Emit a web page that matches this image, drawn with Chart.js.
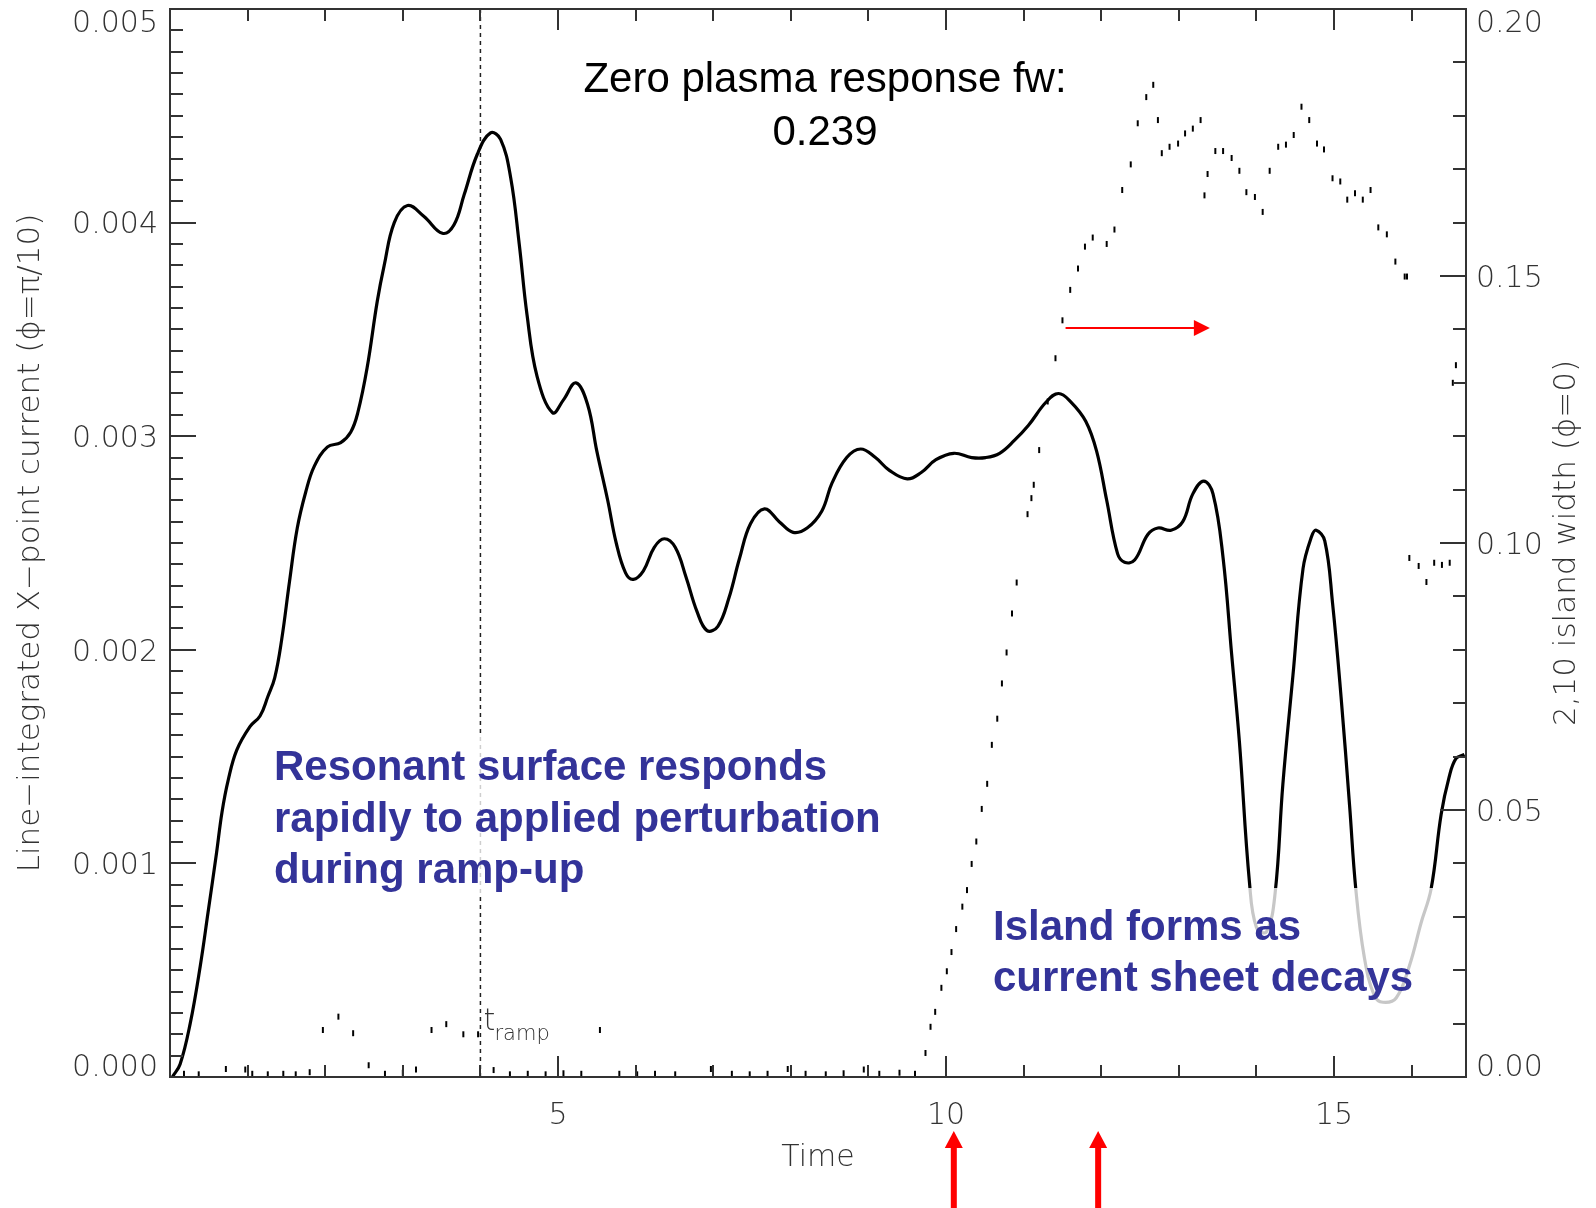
<!DOCTYPE html>
<html>
<head>
<meta charset="utf-8">
<script src="https://cdn.jsdelivr.net/npm/chart.js@4.4.1/dist/chart.umd.min.js"></script>
<style>
  body { margin: 0; background: #fff; }
  #wrap { width: 1596px; height: 1208px; }
</style>
</head>
<body>
<div id="wrap"><canvas id="myChart"></canvas></div>
<script>
// line-integrated X-point current (left axis)
const timeMain = [0.03, 0.13, 0.26, 0.39, 0.49, 0.60, 0.67, 0.75, 0.86, 1.03, 1.16, 1.26, 1.35, 1.44, 1.54, 1.64, 1.75, 1.86, 2.03, 2.20,
  2.33, 2.42, 2.54, 2.67, 2.76, 2.89, 3.06, 3.27, 3.51, 3.66, 3.79, 3.96, 4.13, 4.26, 4.39, 4.50, 4.60, 4.73, 4.93, 5.07,
  5.23, 5.38, 5.50, 5.64, 5.75, 5.87, 5.97, 6.10, 6.24, 6.37, 6.51, 6.65, 6.79, 6.92, 7.06, 7.20, 7.34, 7.48, 7.66, 7.85,
  8.03, 8.21, 8.40, 8.53, 8.72, 8.90, 9.09, 9.27, 9.50, 9.68, 9.87, 10.10, 10.33, 10.51, 10.69, 10.88, 11.06, 11.29, 11.45, 11.61,
  11.80, 11.94, 12.07, 12.21, 12.30, 12.43, 12.60, 12.73, 12.90, 13.05, 13.18, 13.32, 13.44, 13.57, 13.68, 13.78, 13.91, 14.00, 14.13, 14.24,
  14.34, 14.47, 14.60, 14.71, 14.77, 14.88, 14.98, 15.09, 15.20, 15.28, 15.39, 15.52, 15.63, 15.80, 15.97, 16.12, 16.25, 16.38, 16.48, 16.57, 16.68];
const currentMain = [0.00000, 0.00006, 0.00025, 0.00052, 0.00077, 0.00105, 0.00124, 0.00139, 0.00153, 0.00164, 0.00169, 0.00178, 0.00187, 0.00205, 0.00232, 0.00257, 0.00274, 0.00286, 0.00295, 0.00297,
  0.00302, 0.00311, 0.00332, 0.00363, 0.00380, 0.00400, 0.00408, 0.00403, 0.00395, 0.00399, 0.00413, 0.00432, 0.00442, 0.00439, 0.00421, 0.00390, 0.00357, 0.00328, 0.00311, 0.00317,
  0.00325, 0.00315, 0.00293, 0.00270, 0.00250, 0.00236, 0.00233, 0.00237, 0.00248, 0.00252, 0.00248, 0.00234, 0.00218, 0.00209, 0.00211, 0.00224, 0.00243, 0.00259, 0.00266, 0.00260,
  0.00255, 0.00257, 0.00265, 0.00278, 0.00290, 0.00294, 0.00290, 0.00284, 0.00280, 0.00283, 0.00289, 0.00292, 0.00290, 0.00290, 0.00292, 0.00298, 0.00305, 0.00316, 0.00320, 0.00316,
  0.00307, 0.00293, 0.00270, 0.00245, 0.00241, 0.00242, 0.00254, 0.00257, 0.00256, 0.00260, 0.00273, 0.00279, 0.00273, 0.00243, 0.00198, 0.00157, 0.00091, 0.00070, 0.00068, 0.00086,
  0.00137, 0.00188, 0.00238, 0.00253, 0.00256, 0.00251, 0.00222, 0.00178, 0.00127, 0.00088, 0.00056, 0.00038, 0.00035, 0.00037, 0.00052, 0.00072, 0.00088, 0.00123, 0.00140, 0.00149, 0.00151];

// 2,10 island width samples (right axis)
const timeIsland = [0.18, 0.37, 0.72, 0.97, 1.06, 1.26, 1.46, 1.62, 1.80, 1.97, 2.17, 2.36, 2.56, 2.77, 3.00, 3.17, 3.37, 3.56, 3.78, 3.97,
  4.17, 4.38, 4.61, 4.84, 5.07, 5.30, 5.54, 5.79, 6.02, 6.25, 6.51, 6.97, 7.24, 7.47, 7.70, 7.96, 8.19, 8.45, 8.68, 8.94,
  9.14, 9.40, 9.60, 9.735, 9.80, 9.86, 9.94, 10.01, 10.07, 10.13, 10.21, 10.27, 10.33, 10.39, 10.46, 10.53, 10.59, 10.66, 10.72, 10.78,
  10.85, 10.91, 11.05, 11.10, 11.13, 11.20, 11.31, 11.41, 11.50, 11.60, 11.70, 11.79, 11.89, 12.07, 12.17, 12.27, 12.38, 12.47, 12.58, 12.67,
  12.73, 12.78, 12.88, 12.99, 13.08, 13.18, 13.28, 13.33, 13.37, 13.47, 13.57, 13.68, 13.78, 13.87, 13.98, 14.08, 14.17, 14.28, 14.38, 14.48,
  14.58, 14.68, 14.78, 14.87, 14.98, 15.08, 15.17, 15.27, 15.37, 15.47, 15.57, 15.68, 15.79, 15.91, 15.94, 15.97, 16.09, 16.19, 16.29, 16.39,
  16.49, 16.53, 16.57];
const widthIsland = [0.0006, 0.0005, 0.0015, 0.0014, 0.0006, 0.0005, 0.0006, 0.0005, 0.0009, 0.0088, 0.0113, 0.0082, 0.0022, 0.0006, 0.0008, 0.0014, 0.0088, 0.0099, 0.0080, 0.0080,
  0.0013, 0.0005, 0.0006, 0.0005, 0.0007, 0.0006, 0.0088, 0.0006, 0.0005, 0.0006, 0.0005, 0.0015, 0.0006, 0.0005, 0.0006, 0.0015, 0.0006, 0.0005, 0.0007, 0.0014,
  0.0006, 0.0008, 0.0006, 0.0045, 0.0094, 0.0122, 0.0167, 0.0198, 0.0234, 0.0277, 0.0319, 0.0350, 0.0399, 0.0441, 0.0502, 0.0549, 0.0622, 0.0671, 0.0737, 0.0795,
  0.0868, 0.0926, 0.1054, 0.1084, 0.1109, 0.1174, 0.1265, 0.1346, 0.1417, 0.1474, 0.1514, 0.1555, 0.1572, 0.1560, 0.1587, 0.1661, 0.1709, 0.1786, 0.1835, 0.1858,
  0.1792, 0.1730, 0.1742, 0.1748, 0.1767, 0.1776, 0.1792, 0.1651, 0.1691, 0.1734, 0.1734, 0.1721, 0.1697, 0.1657, 0.1648, 0.1620, 0.1697, 0.1742, 0.1746, 0.1764,
  0.1817, 0.1792, 0.1748, 0.1737, 0.1683, 0.1677, 0.1643, 0.1655, 0.1643, 0.1661, 0.1591, 0.1578, 0.1527, 0.1499, 0.1499, 0.0972, 0.0957, 0.0927, 0.0963, 0.0959,
  0.0963, 0.1300, 0.1333];

// axis ranges and labels
const timeRange = [0, 16.7];
const currentRange = [0, 0.005];
const widthRange = [0, 0.2];
const tRamp = 4;
const arrowTimes = [10.1, 11.96];
const sideArrow = { from: 11.54, to: 13.4, level: 0.003507 };

const leftTitle = 'Line\u2212integrated X\u2212point current (\u03D5=\u03C0/10)';
const rightTitle = '2,10 island width (\u03D5=0)';
const xTitle = 'Time';
const topNote = ['Zero plasma response fw:', '0.239'];
const noteRamp = ['Resonant surface responds', 'rapidly to applied perturbation', 'during ramp-up'];
const noteIsland = ['Island forms as', 'current sheet decays'];

const axisFont = '"DejaVu Sans", sans-serif';
const gray = '#333';
const blue = '#333399';
const red = '#ff0000';

function edgeLabel(v, lo, hi, d) {
  const s = v.toFixed(d);
  if (Math.abs(v - hi) < 1e-9) return ['', s];
  if (Math.abs(v - lo) < 1e-9) return [s, ''];
  return s;
}

function zeroPad(s) {
  s.paddingTop = 0; s.paddingBottom = 0; s.paddingLeft = 0; s.paddingRight = 0;
}

// box, inward tick marks (major + minor), like the IDL plot
const axisFrame = {
  id: 'axisFrame',
  afterDraw(chart) {
    const { ctx, chartArea: a, scales: { x, y, y1 } } = chart;
    ctx.save();
    ctx.strokeStyle = gray;
    ctx.lineWidth = 2;
    ctx.strokeRect(a.left, a.top, a.right - a.left, a.bottom - a.top);
    ctx.beginPath();
    for (let i = 0; i <= Math.floor(x.max); i++) {
      const px = Math.round(x.getPixelForValue(i));
      const len = i % 5 === 0 ? 21 : 12;
      ctx.moveTo(px, a.bottom); ctx.lineTo(px, a.bottom - len);
      ctx.moveTo(px, a.top); ctx.lineTo(px, a.top + len);
    }
    for (let i = 0; i <= 50; i++) {
      const py = Math.round(y.getPixelForValue(i * 0.0001));
      const len = i % 10 === 0 ? 26 : 13;
      ctx.moveTo(a.left, py); ctx.lineTo(a.left + len, py);
    }
    for (let i = 0; i <= 20; i++) {
      const py = Math.round(y1.getPixelForValue(i * 0.01));
      const len = i % 5 === 0 ? 26 : 13;
      ctx.moveTo(a.right, py); ctx.lineTo(a.right - len, py);
    }
    ctx.stroke();

    // right axis title reads bottom-to-top
    ctx.fillStyle = gray;
    ctx.font = '200 31px ' + axisFont;
    ctx.textAlign = 'center';
    ctx.textBaseline = 'middle';
    ctx.translate(1567, (a.top + a.bottom) / 2);
    ctx.rotate(-Math.PI / 2);
    ctx.fillText(rightTitle, 0, 0);
    ctx.restore();
  }
};

const annotations = {
  id: 'annotations',
  afterDatasetsDraw(chart) {
    const { ctx, chartArea: a, scales: { x, y } } = chart;
    ctx.save();
    // semi-opaque text boxes that dim whatever lies underneath
    ctx.fillStyle = 'rgba(255,255,255,0.78)';
    ctx.fillRect(268, 733, 622, 162);
    ctx.fillRect(990, 888, 446, 124);

    ctx.textAlign = 'left';
    ctx.textBaseline = 'alphabetic';
    ctx.fillStyle = blue;
    ctx.font = 'bold 42px "Liberation Sans", Arial, sans-serif';
    noteRamp.forEach((t, i) => ctx.fillText(t, 274, 780 + i * 51.5));
    noteIsland.forEach((t, i) => ctx.fillText(t, 993, 940 + i * 51));

    ctx.fillStyle = '#000';
    ctx.font = '42px "Liberation Sans", Arial, sans-serif';
    ctx.textAlign = 'center';
    ctx.fillText(topNote[0], 825, 92);
    ctx.fillText(topNote[1], 825, 145);

    // t_ramp label
    const rx = x.getPixelForValue(tRamp);
    ctx.textAlign = 'left';
    ctx.fillStyle = gray;
    ctx.font = '200 30px ' + axisFont;
    ctx.fillText('t', rx + 3, 1030);
    ctx.font = '200 21px ' + axisFont;
    ctx.fillText('ramp', rx + 14, 1040);

    // red arrows
    ctx.fillStyle = red;
    ctx.strokeStyle = red;
    ctx.lineWidth = 2;
    const hy = y.getPixelForValue(sideArrow.level);
    const hx0 = x.getPixelForValue(sideArrow.from);
    const hx1 = x.getPixelForValue(sideArrow.to);
    ctx.beginPath(); ctx.moveTo(hx0, hy); ctx.lineTo(hx1 - 14, hy); ctx.stroke();
    ctx.beginPath(); ctx.moveTo(hx1, hy); ctx.lineTo(hx1 - 16, hy - 8); ctx.lineTo(hx1 - 16, hy + 8); ctx.closePath(); ctx.fill();
    arrowTimes.forEach(t => {
      const px = x.getPixelForValue(t);
      const tip = a.bottom + 54;
      ctx.fillRect(px - 3, tip + 15, 6, chart.height - tip - 15);
      ctx.beginPath(); ctx.moveTo(px, tip); ctx.lineTo(px - 9, tip + 17); ctx.lineTo(px + 9, tip + 17); ctx.closePath(); ctx.fill();
    });
    ctx.restore();
  }
};

const canvasElement = document.getElementById('myChart');

let config = {
  type: 'line',
  data: {
    datasets: [{
      label: 'X-point current',
      data: timeMain.map((t, i) => ({ x: t, y: currentMain[i] })),
      borderColor: '#000',
      borderWidth: 3.2,
      pointRadius: 0,
      tension: 0.4,
      yAxisID: 'y'
    }, {
      label: 'island width',
      type: 'scatter',
      data: timeIsland.map((t, i) => ({ x: t, y: widthIsland[i] })),
      yAxisID: 'y1',
      pointStyle: 'line',
      rotation: 90,
      pointRadius: 3,
      borderWidth: 2,
      borderColor: '#000',
      backgroundColor: '#000'
    }, {
      label: 't_ramp',
      data: [{ x: tRamp, y: currentRange[0] }, { x: tRamp, y: currentRange[1] }],
      borderColor: '#222',
      borderWidth: 1.5,
      borderDash: [4, 4],
      pointRadius: 0,
      yAxisID: 'y'
    }]
  },
  options: {
    responsive: true,
    maintainAspectRatio: false,
    animation: false,
    devicePixelRatio: 1,
    layout: { padding: { top: 9, left: 0, right: 0, bottom: 0 } },
    plugins: { legend: { display: false }, tooltip: { enabled: false } },
    scales: {
      x: {
        type: 'linear',
        min: timeRange[0],
        max: timeRange[1],
        grid: { display: false, drawTicks: false },
        border: { display: false },
        ticks: {
          stepSize: 5,
          includeBounds: false,
          autoSkip: false,
          maxRotation: 0,
          padding: 21,
          color: gray,
          font: { family: axisFont, size: 30, weight: '200' },
          callback: v => (v === 0 ? '' : String(v))
        },
        title: { display: true, text: xTitle, color: gray, font: { family: axisFont, size: 30, weight: '200' }, padding: { bottom: 32 } },
        afterFit: s => { s.height = 131; zeroPad(s); }
      },
      y: {
        type: 'linear',
        position: 'left',
        min: currentRange[0],
        max: currentRange[1],
        grid: { display: false, drawTicks: false },
        border: { display: false },
        ticks: {
          stepSize: 0.001,
          autoSkip: false,
          padding: 12,
          labelOffset: 3,
          color: gray,
          font: { family: axisFont, size: 30, weight: '200', lineHeight: 0.8 },
          callback: v => edgeLabel(v, currentRange[0], currentRange[1], 3)
        },
        title: { display: true, text: leftTitle, color: gray, font: { family: axisFont, size: 31, weight: '200' }, padding: { top: 12 } },
        afterFit: s => { s.width = 170; zeroPad(s); }
      },
      y1: {
        type: 'linear',
        position: 'right',
        min: widthRange[0],
        max: widthRange[1],
        grid: { display: false, drawTicks: false },
        border: { display: false },
        ticks: {
          stepSize: 0.05,
          autoSkip: false,
          padding: 10,
          labelOffset: 3,
          color: gray,
          font: { family: axisFont, size: 30, weight: '200', lineHeight: 0.8 },
          callback: v => edgeLabel(v, widthRange[0], widthRange[1], 2)
        },
        afterFit: s => { s.width = 130; zeroPad(s); }
      }
    }
  },
  plugins: [annotations, axisFrame]
};

let newChart = new Chart(canvasElement, config);
</script>
</body>
</html>
